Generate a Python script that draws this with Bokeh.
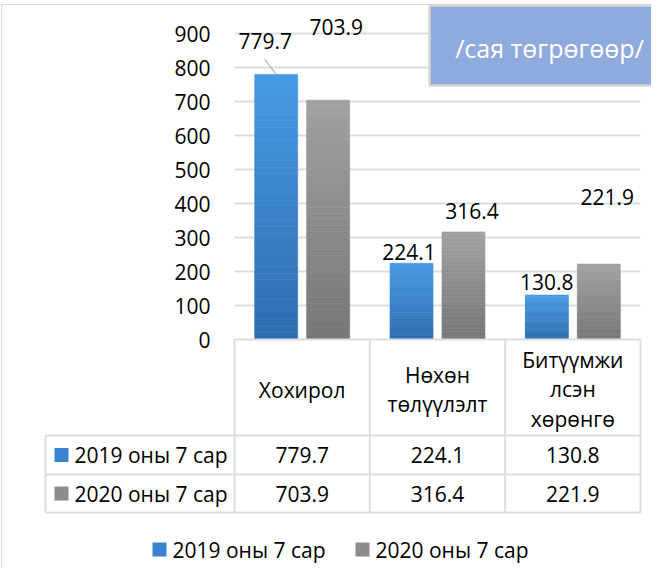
import numpy as np
from bokeh.plotting import figure
from bokeh.models import Range1d, LinearAxis, FixedTicker
from bokeh.core.properties import value
from bokeh.embed import file_html
from bokeh.resources import INLINE

# ---------------- data ----------------
categories = ["Хохирол", "Нөхөн төлүүлэлт", "Битүүмжилсэн хөрөнгө"]
category_labels = ["Хохирол", "Нөхөн\nтөлүүлэлт", "Битүүмжи\nлсэн\nхөрөнгө"]
series_names = ["2019 оны 7 сар", "2020 оны 7 сар"]
values_2019 = [779.7, 224.1, 130.8]
values_2020 = [703.9, 316.4, 221.9]
y_ticks = [0, 100, 200, 300, 400, 500, 600, 700, 800, 900]
unit_label = "/сая төгрөгөөр/"

# ---------------- layout helpers (reference-pixel -> data) ----------------
W, H = 651, 568
PX_X = 135.33   # pixels per category
PX_Y = 0.34     # pixels per value unit
LEFT_PX = 242   # page x of plot-area left edge
ZERO_PX = 347   # page y of value 0


def sx(px):
    return (px - LEFT_PX) / PX_X


def sy(py):
    return (ZERO_PX - py) / PX_Y


FONT = value("Open Sans")
GRID = "#D9DEE6"

p = figure(width=W, height=H,
           x_range=Range1d(sx(8), sx(8 + W)), y_range=Range1d(sy(8 + H), sy(8)),
           output_backend="svg", toolbar_location=None, min_border=0,
           x_axis_type=None, y_axis_type=None)
p.outline_line_color = None
p.background_fill_color = "white"
p.border_fill_color = "white"

# outer chart border
p.quad(left=[sx(9)], right=[sx(720)], top=[sy(12)], bottom=[sy(700)],
       fill_color=None, line_color="#D5DBE4", line_width=1.2)

# y axis placed at the left edge of the plot area
yaxis = LinearAxis(fixed_location=0, ticker=FixedTicker(ticks=y_ticks))
yaxis.axis_line_color = None
yaxis.major_tick_line_color = None
yaxis.minor_tick_line_color = None
yaxis.major_tick_in = 0
yaxis.major_tick_out = 0
yaxis.major_label_standoff = 24
yaxis.major_label_text_font = "Open Sans"
yaxis.major_label_text_font_size = "21px"
yaxis.major_label_text_color = "#000000"
p.add_layout(yaxis, "left")

# horizontal gridlines
n_cat = len(categories)
p.segment(x0=[0] * (len(y_ticks) - 1), x1=[n_cat] * (len(y_ticks) - 1),
          y0=y_ticks[1:], y1=y_ticks[1:], line_color=GRID, line_width=2)

# bars with vertical gradient
bar_w = 43 / PX_X
offsets = [-0.192, 0.192]
series_vals = [values_2019, values_2020]
top_cols = [(71, 154, 228), (162, 162, 162)]
bot_cols = [(46, 108, 174), (118, 118, 118)]
N = 40


def mix(a, b, t):
    return "#%02x%02x%02x" % tuple(int(round(a[i] + (b[i] - a[i]) * t)) for i in range(3))


for s in range(2):
    xs, bots, tops, cols = [], [], [], []
    for i, v in enumerate(series_vals[s]):
        for k in range(N):
            xs.append(i + 0.5 + offsets[s])
            bots.append(v * k / N)
            tops.append(v * (k + 1) / N)
            cols.append(mix(bot_cols[s], top_cols[s], (k + 0.5) / N))
    p.vbar(x=xs, bottom=bots, top=tops, width=bar_w, fill_color=cols,
           line_color=cols, line_width=0.6)

# data labels (offsets in pixels relative to top-centre of bar)
label_dx = [[-11, -2.5, 0], [8, 8.5, 8.5]]
label_dy = [[-33, -11, -13], [-73, -21, -67]]
for s in range(2):
    xs = [i + 0.5 + offsets[s] for i in range(n_cat)]
    p.text(x=xs, y=series_vals[s], text=[f"{v:.1f}" for v in series_vals[s]],
           x_offset=label_dx[s], y_offset=label_dy[s],
           text_font=FONT, text_font_size="21px", text_color="#000000",
           text_align="center", text_baseline="middle")

# leader line for first label
v0 = values_2019[0]
x0 = 0.5 + offsets[0]
p.segment(x0=[x0 - 11.5 / PX_X], y0=[v0 + 15 / PX_Y], x1=[x0], y1=[v0],
          line_color="#A9B7CA", line_width=1.2)

# unit box
p.quad(left=[sx(437)], right=[sx(720)], top=[sy(13)], bottom=[sy(93)],
       fill_color="#8FAADC", line_color="#D6D6D6", line_width=2.5)
p.text(x=[sx(557)], y=[sy(55)], text=[unit_label], text_font=FONT,
       text_font_size="25px", text_color="white", text_align="center",
       text_baseline="middle")

# ---------------- data table ----------------
row_bottoms = [443, 482, 520]
table_left = 53
# horizontal lines
p.segment(x0=[0], x1=[n_cat], y0=[0], y1=[0], line_color=GRID, line_width=2)
p.segment(x0=[sx(table_left)] * 3, x1=[n_cat] * 3,
          y0=[sy(r) for r in row_bottoms], y1=[sy(r) for r in row_bottoms],
          line_color=GRID, line_width=2)
# vertical lines
p.segment(x0=list(range(n_cat + 1)), x1=list(range(n_cat + 1)),
          y0=[0] * (n_cat + 1), y1=[sy(520)] * (n_cat + 1),
          line_color=GRID, line_width=2)
p.segment(x0=[sx(table_left)], x1=[sx(table_left)], y0=[sy(443)], y1=[sy(520)],
          line_color=GRID, line_width=2)

# header
p.text(x=[i + 0.5 for i in range(n_cat)], y=[sy(397)] * n_cat, text=category_labels,
       text_font=FONT, text_font_size="21px", text_color="#000000",
       text_align="center", text_baseline="middle", text_line_height=1.07)

row_centers = [462.5, 501]
key_cols = ["#3A84CF", "#8C8C8C"]
for s in range(2):
    yc = sy(row_centers[s])
    p.scatter(x=[sx(69)], y=[yc], marker="square", size=14,
              fill_color=key_cols[s], line_color=None)
    p.text(x=[sx(82)], y=[yc], text=[series_names[s]], text_font=FONT,
           text_font_size="21px", text_color="#000000", text_align="left",
           text_baseline="middle")
    p.text(x=[i + 0.5 for i in range(n_cat)], y=[yc] * n_cat,
           text=[f"{v:.1f}" for v in series_vals[s]], text_font=FONT,
           text_font_size="21px", text_color="#000000", text_align="center",
           text_baseline="middle")

# ---------------- bottom legend ----------------
leg_x = [167, 370]
leg_y = sy(557)
for s in range(2):
    p.scatter(x=[sx(leg_x[s])], y=[leg_y], marker="square", size=14,
              fill_color=key_cols[s], line_color=None)
    p.text(x=[sx(leg_x[s] + 13)], y=[leg_y], text=[series_names[s]], text_font=FONT,
           text_font_size="21px", text_color="#000000", text_align="left",
           text_baseline="middle")

open("out.html", "w").write(file_html(p, INLINE))
